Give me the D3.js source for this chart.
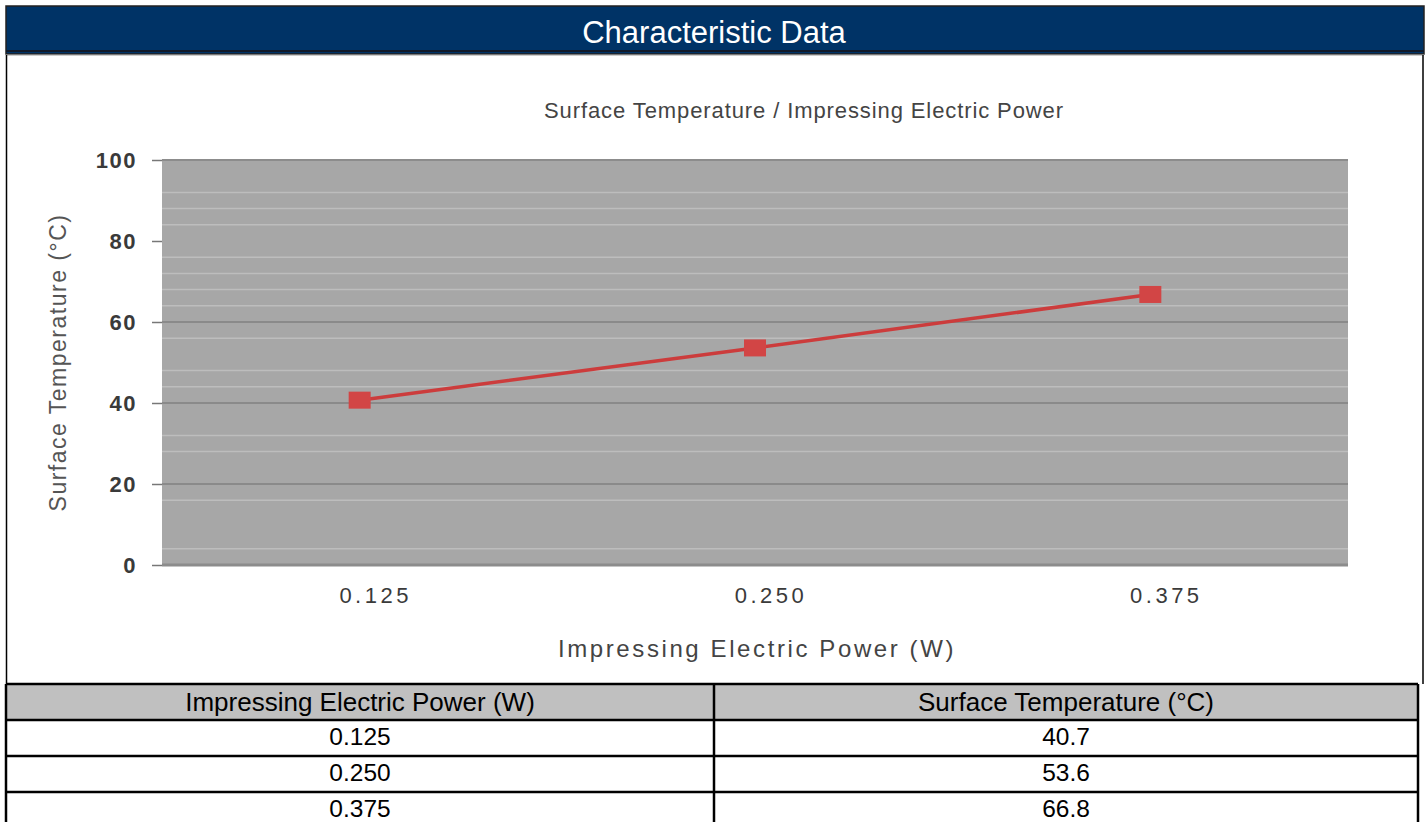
<!DOCTYPE html>
<html>
<head>
<meta charset="utf-8">
<script src="https://cdn.jsdelivr.net/npm/d3@7"></script>
<style>
  body { margin: 0; background: #fff; }
  text { font-family: "Liberation Sans", Arial, sans-serif; }
</style>
</head>
<body>
<div id="chart"></div>
<script>
// data
const powers = ['0.125', '0.250', '0.375']
const temps = [40.7, 53.6, 66.8]
const yTicks = [0, 20, 40, 60, 80, 100]
const majorGrid = [20, 40, 60]
const minorGrid = [4, 16, 28, 32, 44, 48, 56, 64, 68, 72, 76, 84, 88, 92]
const tableHead = ['Impressing Electric Power (W)', 'Surface Temperature (°C)']
const tableRows = [['0.125', '40.7'], ['0.250', '53.6'], ['0.375', '66.8']]

const width = 1427
const height = 822
const plot = { left: 162, right: 1348, top: 160, bottom: 565 }

const svg = d3.select('#chart')
  .append('svg')
  .attr('width', width)
  .attr('height', height)

// header bar
svg.append('rect')
  .attr('x', 6).attr('y', 6).attr('width', 1418).attr('height', 48)
  .attr('fill', '#003366').attr('stroke', '#222').attr('stroke-width', 1.5)
svg.append('line')
  .attr('x1', 6).attr('x2', 1424).attr('y1', 51).attr('y2', 51)
  .attr('stroke', '#111a2a').attr('stroke-width', 2)
svg.append('line')
  .attr('x1', 6).attr('x2', 1424).attr('y1', 55).attr('y2', 55)
  .attr('stroke', '#999').attr('stroke-width', 1)
svg.append('text')
  .attr('x', 714).attr('y', 43)
  .attr('text-anchor', 'middle')
  .attr('fill', '#fff')
  .attr('font-size', 31)
  .text('Characteristic Data')

// chart box
svg.append('path')
  .attr('d', 'M6.5,55 V684 M1423,55 V684')
  .attr('stroke', '#000').attr('stroke-width', 1.5).attr('fill', 'none')

svg.append('text')
  .attr('x', 804).attr('y', 118)
  .attr('text-anchor', 'middle')
  .attr('fill', '#444')
  .attr('font-size', 22)
  .attr('letter-spacing', 0.9)
  .text('Surface Temperature / Impressing Electric Power')

const x = d3.scaleBand()
  .domain(powers)
  .range([plot.left, plot.right])

const y = d3.scaleLinear()
  .domain([0, 100])
  .range([plot.bottom, plot.top])

svg.append('rect')
  .attr('x', plot.left).attr('y', plot.top)
  .attr('width', plot.right - plot.left).attr('height', plot.bottom - plot.top)
  .attr('fill', '#a7a7a7')

svg.append('g')
  .selectAll('line')
  .data(minorGrid)
  .join('line')
    .attr('x1', plot.left).attr('x2', plot.right)
    .attr('y1', d => y(d)).attr('y2', d => y(d))
    .attr('stroke', '#bdbdbd').attr('stroke-width', 1.5)

svg.append('g')
  .selectAll('line')
  .data(majorGrid)
  .join('line')
    .attr('x1', plot.left).attr('x2', plot.right)
    .attr('y1', d => y(d)).attr('y2', d => y(d))
    .attr('stroke', '#8a8a8a').attr('stroke-width', 2)

// top and bottom edges
svg.append('g')
  .selectAll('line')
  .data([0, 100])
  .join('line')
    .attr('x1', plot.left).attr('x2', plot.right)
    .attr('y1', d => y(d)).attr('y2', d => y(d))
    .attr('stroke', '#8c8c8c').attr('stroke-width', d => d === 0 ? 3 : 2)

function yAxis(g){
  g.attr('transform', `translate(${plot.left}, 0)`)
  .call(d3.axisLeft(y).tickValues(yTicks).tickSize(10).tickPadding(15))
  .call(g => g.select('.domain').remove())
  .call(g => g.selectAll('line').attr('stroke', '#777').attr('stroke-width', 1.5))
  .call(g => g.selectAll('text')
    .attr('font-size', 22).attr('font-weight', 'bold').attr('fill', '#3a3a3a')
    .attr('letter-spacing', 1.5)
    .attr('font-family', '"Liberation Sans", Arial, sans-serif'))
}

function xAxis(g){
  g.attr('transform', `translate(0, ${plot.bottom})`)
  .call(d3.axisBottom(x).tickSize(0).tickPadding(22))
  .call(g => g.select('.domain').remove())
  .call(g => g.selectAll('text')
    .attr('dx', 16)
    .attr('font-size', 22).attr('fill', '#3a3a3a').attr('letter-spacing', 3.5)
    .attr('font-family', '"Liberation Sans", Arial, sans-serif'))
}

svg.append('g').call(yAxis)
svg.append('g').call(xAxis)

svg.append('text')
  .attr('transform', `translate(66, ${(plot.top + plot.bottom) / 2}) rotate(-90)`)
  .attr('text-anchor', 'middle')
  .attr('fill', '#555')
  .attr('font-size', 23)
  .attr('letter-spacing', 1.5)
  .text('Surface Temperature (°C)')

svg.append('text')
  .attr('x', (plot.left + plot.right) / 2 + 2).attr('y', 657)
  .attr('text-anchor', 'middle')
  .attr('fill', '#444')
  .attr('font-size', 24)
  .attr('letter-spacing', 2.6)
  .text('Impressing Electric Power (W)')

const line = d3.line()
  .x((d, i) => x(powers[i]) + x.bandwidth() / 2)
  .y(d => y(d))

svg.append('path')
  .datum(temps)
  .attr('d', line)
  .attr('fill', 'none')
  .attr('stroke', '#cc3c3c')
  .attr('stroke-width', 3.5)

svg.append('g')
  .selectAll('rect')
  .data(temps)
  .join('rect')
    .attr('x', (d, i) => x(powers[i]) + x.bandwidth() / 2 - 11)
    .attr('y', d => y(d) - 8.5)
    .attr('width', 22)
    .attr('height', 17)
    .attr('fill', '#d24545')

// table
const colX = [6, 714, 1418]
const rowY = [684, 720, 756, 792, 828]

svg.append('rect')
  .attr('x', colX[0]).attr('y', rowY[0])
  .attr('width', colX[2] - colX[0]).attr('height', rowY[1] - rowY[0])
  .attr('fill', '#c0c0c0')

svg.append('g')
  .selectAll('line')
  .data(rowY.slice(0, 4))
  .join('line')
    .attr('x1', colX[0]).attr('x2', colX[2])
    .attr('y1', d => d).attr('y2', d => d)
    .attr('stroke', '#000').attr('stroke-width', 2.5)

svg.append('g')
  .selectAll('line')
  .data(colX)
  .join('line')
    .attr('x1', d => d).attr('x2', d => d)
    .attr('y1', rowY[0]).attr('y2', height)
    .attr('stroke', '#000').attr('stroke-width', 2.5)

const cells = [tableHead].concat(tableRows)
svg.append('g')
  .selectAll('g')
  .data(cells)
  .join('g')
  .selectAll('text')
  .data((row, r) => row.map((v, c) => ({ v, r, c })))
  .join('text')
    .attr('x', d => (colX[d.c] + colX[d.c + 1]) / 2)
    .attr('y', d => rowY[d.r] + (d.r === 0 ? 27 : 24.5))
    .attr('text-anchor', 'middle')
    .attr('font-size', d => d.r === 0 ? 26 : 24.5)
    .attr('fill', '#000')
    .text(d => d.v)
</script>
</body>
</html>
